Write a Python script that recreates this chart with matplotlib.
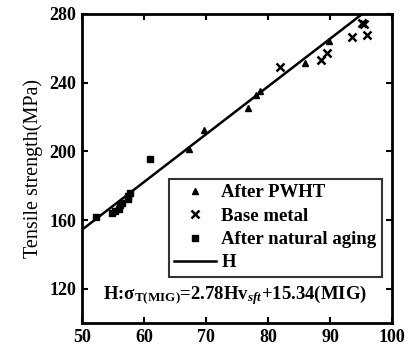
import numpy as np
import matplotlib.pyplot as plt

plt.rcParams['font.family'] = ['Liberation Serif', 'DejaVu Serif']
plt.rcParams['font.weight'] = 'bold'
plt.rcParams['mathtext.fontset'] = 'custom'
plt.rcParams['mathtext.rm'] = 'Liberation Serif'
plt.rcParams['mathtext.it'] = 'Liberation Serif:italic'
plt.rcParams['mathtext.bf'] = 'Liberation Serif:bold'

# after PWHT (triangles)
pwht_hv = [67.3, 69.6, 76.7, 78.0, 78.7, 86.0, 89.8]
pwht_ts = [201.5, 212.5, 225.5, 233.0, 235.0, 251.5, 264.5]

# base metal (crosses)
base_hv = [81.9, 88.5, 89.6, 93.6, 95.1, 95.5, 95.9]
base_ts = [249.0, 253.3, 257.0, 266.6, 274.5, 274.0, 268.0]

# after natural aging (squares)
aging_hv = [52.3, 54.8, 55.3, 55.9, 56.2, 56.5, 57.5, 57.5, 57.7, 61.0]
aging_ts = [161.5, 164.0, 165.0, 166.5, 168.5, 170.0, 172.0, 174.0, 176.0, 195.5]

# fit H
slope, intercept = 2.78, 15.34
fit_x = np.array([50, 100])

fig = plt.figure(figsize=(4.1, 3.5), dpi=100)
ax = fig.add_axes([0.2, 0.077, 0.756, 0.883])

ax.plot(pwht_hv, pwht_ts, '^', color='k', ms=5, label='After PWHT')
ax.plot(base_hv, base_ts, 'x', color='k', ms=6, mew=1.8, label='Base metal')
ax.plot(aging_hv, aging_ts, 's', color='k', ms=5, label='After natural aging')
ax.plot(fit_x, slope * fit_x + intercept, '-', color='k', lw=1.8, label='H')

ax.set_xlim(50, 100)
ax.set_ylim(100, 280)
ax.set_xticks([50, 60, 70, 80, 90, 100])
ax.set_yticks([120, 160, 200, 240, 280])
ax.tick_params(direction='in', top=True, right=True, length=4, width=1.5,
               labelsize=13, pad=4)
for s in ax.spines.values():
    s.set_linewidth(2)
ax.set_ylabel('Tensile strength(MPa)', fontsize=14.5, fontweight='normal',
              labelpad=5)

leg = ax.legend(loc='lower right', bbox_to_anchor=(0.968, 0.149), fontsize=13.5,
                frameon=True, fancybox=False, edgecolor='k', markerscale=0.85,
                handlelength=2.2, handletextpad=0.3, borderpad=0.3,
                labelspacing=0.33, borderaxespad=0)
leg.get_frame().set_linewidth(1.5)

ax.text(0.068, 0.09,
        'H:\u03c3' + r'$_{\mathrm{T(MIG)}}$=2.78Hv$_{\mathit{sft}}$+15.34(MIG)',
        transform=ax.transAxes, fontsize=13.5, fontweight='bold', va='center')

fig.savefig('out.png', dpi=100)
